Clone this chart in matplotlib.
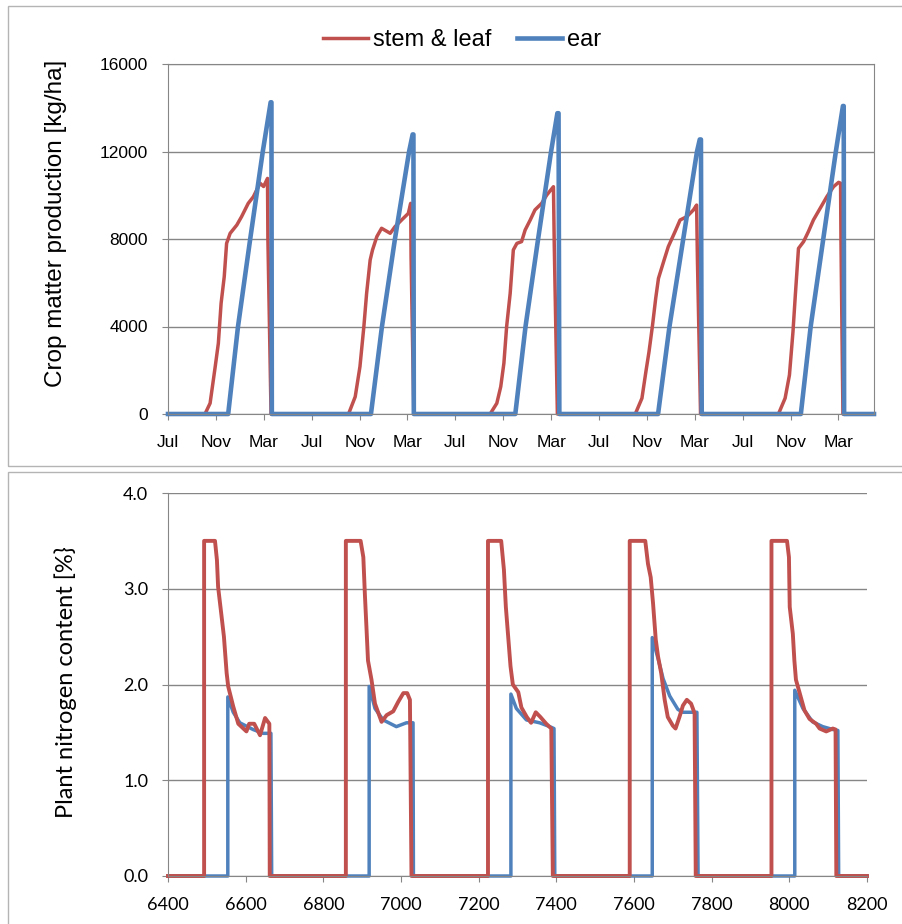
import numpy as np
import matplotlib
matplotlib.use('Agg')
import matplotlib.pyplot as plt
import matplotlib.dates as mdates
from matplotlib.patches import Rectangle

# top chart: days after 1 July of first season, dry matter [kg/ha]
top_stem_day = [0, 94, 107, 120, 128, 135, 143, 149, 158, 175, 187, 204, 217, 234, 243, 253, 254, 262,
                459, 476, 488, 498, 505, 514, 520, 531, 543, 565, 577, 594, 611, 617, 618, 625,
                819, 836, 846, 854, 861, 870, 878, 887, 899, 908, 921, 933, 950, 963, 980, 982, 990,
                1188, 1205, 1215, 1223, 1232, 1240, 1247, 1260, 1272, 1289, 1302, 1319, 1336, 1344, 1346, 1354,
                1552, 1569, 1580, 1589, 1595, 1603, 1616, 1628, 1641, 1658, 1675, 1692, 1705, 1710, 1711, 1716, 1795]
top_stem_kg = [0, 0, 490, 2160, 3230, 5060, 6280, 7800, 8260, 8640, 9020, 9630, 9930, 10550, 10400, 10770, 8000, 0,
               0, 790, 2160, 4000, 5520, 7040, 7500, 8110, 8490, 8260, 8560, 8870, 9170, 9630, 7190, 0,
               0, 490, 1250, 2320, 4000, 5520, 7500, 7800, 7880, 8410, 8870, 9330, 9630, 10010, 10390, 7800, 0,
               0, 720, 1930, 2850, 4070, 5290, 6200, 6960, 7650, 8330, 8870, 9020, 9330, 9550, 7120, 0,
               0, 720, 1780, 3760, 5440, 7570, 7880, 8330, 8870, 9400, 9930, 10390, 10590, 10550, 7950, 0, 0]
top_ear_day = [0, 153, 178, 209, 241, 261, 263, 264,
               516, 544, 577, 613, 622, 624, 625,
               883, 909, 941, 974, 990, 993, 995,
               1246, 1275, 1310, 1345, 1352, 1355, 1357,
               1609, 1634, 1666, 1698, 1716, 1718, 1719, 1795]
top_ear_kg = [0, 0, 4000, 8000, 12000, 14250, 14250, 0,
              0, 4000, 8000, 12000, 12780, 12780, 0,
              0, 4000, 8000, 12000, 13750, 13750, 0,
              0, 4000, 8000, 12000, 12550, 12550, 0,
              0, 4000, 8000, 12000, 14080, 14080, 0, 0]

# bottom chart: day number, nitrogen content [%]
n_stem_day = [6400, 6493, 6493, 6521, 6526, 6529, 6538, 6544, 6551, 6555, 6568, 6581, 6602, 6609, 6622, 6637, 6650, 6661, 6662,
              6858, 6858, 6896, 6903, 6907, 6911, 6915, 6924, 6933, 6950, 6963, 6980, 6993, 7006, 7016, 7023, 7027,
              7224, 7224, 7258, 7265, 7270, 7276, 7282, 7288, 7302, 7310, 7324, 7335, 7347, 7359, 7374, 7387, 7391,
              7589, 7589, 7629, 7636, 7643, 7649, 7656, 7662, 7670, 7679, 7687, 7700, 7707, 7717, 7726, 7736, 7747, 7756, 7759,
              7954, 7954, 7994, 7999, 8001, 8009, 8013, 8017, 8026, 8039, 8052, 8069, 8078, 8095, 8112, 8119, 8121, 8200]
n_stem_pct = [0, 0, 3.5, 3.5, 3.30, 3.02, 2.71, 2.50, 2.12, 1.98, 1.77, 1.59, 1.51, 1.59, 1.59, 1.47, 1.65, 1.59, 0,
              0, 3.5, 3.5, 3.33, 2.94, 2.60, 2.25, 2.05, 1.80, 1.61, 1.68, 1.72, 1.82, 1.91, 1.91, 1.84, 0,
              0, 3.5, 3.5, 3.20, 2.81, 2.50, 2.19, 2.00, 1.92, 1.76, 1.66, 1.60, 1.71, 1.66, 1.59, 1.54, 0,
              0, 3.5, 3.5, 3.26, 3.12, 2.85, 2.47, 2.29, 2.12, 1.84, 1.66, 1.57, 1.54, 1.66, 1.78, 1.84, 1.80, 1.70, 0,
              0, 3.5, 3.5, 3.33, 2.81, 2.53, 2.25, 2.05, 1.92, 1.73, 1.64, 1.59, 1.54, 1.51, 1.54, 1.53, 0, 0]
n_ear_day = [6400, 6554, 6554, 6568, 6585, 6619, 6645, 6665, 6667,
             6918, 6918, 6933, 6954, 6988, 7014, 7031, 7032,
             7283, 7283, 7297, 7323, 7357, 7383, 7394, 7396,
             7647, 7647, 7662, 7675, 7692, 7713, 7726, 7762, 7765,
             8014, 8014, 8035, 8060, 8086, 8112, 8125, 8127, 8200]
n_ear_pct = [0, 0, 1.87, 1.71, 1.60, 1.53, 1.49, 1.49, 0,
             0, 1.98, 1.75, 1.63, 1.56, 1.60, 1.60, 0,
             0, 1.90, 1.75, 1.63, 1.60, 1.56, 1.54, 0,
             0, 2.49, 2.27, 2.06, 1.88, 1.74, 1.71, 1.71, 0,
             0, 1.94, 1.75, 1.61, 1.56, 1.53, 1.52, 0, 0]

RED = '#C0504D'
BLUE = '#4F81BD'
GRID = '#868686'

fig = plt.figure(figsize=(9.02, 9.24), dpi=100)

# the two chart frames
for y0, y1 in [(0.4957, 0.9935), (-0.01, 0.4892)]:
    fig.add_artist(Rectangle((0.0089, y0), 1.0, y1 - y0, transform=fig.transFigure,
                             fill=False, edgecolor='#b4b4b4', lw=1))

# ---- top: crop matter production
ax1 = fig.add_axes([168 / 902, 1 - 414 / 924, 706 / 902, 350 / 924])
base = np.datetime64('2001-07-01')
stem_dates = base + np.array(top_stem_day).astype('timedelta64[D]')
ear_dates = base + np.array(top_ear_day).astype('timedelta64[D]')
ax1.plot(stem_dates, top_stem_kg, color=RED, lw=2.5, label='stem & leaf', clip_on=False)
ax1.plot(ear_dates, top_ear_kg, color=BLUE, lw=3.3, label='ear', clip_on=False)
ax1.set_xlim(base, base + np.timedelta64(1795, 'D'))
ax1.set_ylim(0, 16000)
ax1.set_yticks(range(0, 16001, 4000))
ax1.xaxis.set_major_locator(mdates.MonthLocator(bymonth=[3, 7, 11]))
ax1.xaxis.set_major_formatter(mdates.DateFormatter('%b'))
ax1.grid(axis='y', color=GRID, lw=1)
ax1.set_axisbelow(True)
for s in ax1.spines.values():
    s.set_color(GRID)
ax1.tick_params(axis='both', direction='out', length=4.3, color=GRID, labelsize=12.5)
ax1.tick_params(axis='x', pad=11)
ax1.tick_params(axis='y', pad=10)
for lab in ax1.get_xticklabels() + ax1.get_yticklabels():
    lab.set_family('Liberation Sans')
fig.text(56 / 902, 1 - 223 / 924, 'Crop matter production [kg/ha]', rotation=90,
         ha='center', va='center', fontsize=17.5, family='Liberation Sans')
fig.legend(loc='center', bbox_to_anchor=(462 / 902, 1 - 40 / 924), ncol=2, frameon=False,
           prop={'family': 'Liberation Sans', 'size': 17}, handlelength=1.9,
           handletextpad=0.2, columnspacing=1.1)

# ---- bottom: plant nitrogen content
ax2 = fig.add_axes([168 / 902, 1 - 876 / 924, 699 / 902, 383 / 924])
ax2.plot(n_ear_day, n_ear_pct, color=BLUE, lw=2.5, clip_on=False)
ax2.plot(n_stem_day, n_stem_pct, color=RED, lw=2.8, clip_on=False)
ax2.set_xlim(6400, 8200)
ax2.set_ylim(0, 4)
ax2.set_xticks(range(6400, 8201, 200))
ax2.set_yticks([0, 1, 2, 3, 4])
ax2.set_yticklabels(['0.0', '1.0', '2.0', '3.0', '4.0'])
ax2.grid(axis='y', color=GRID, lw=1)
ax2.set_axisbelow(True)
ax2.spines['top'].set_visible(False)
ax2.spines['right'].set_visible(False)
ax2.spines['left'].set_color(GRID)
ax2.spines['bottom'].set_color(GRID)
ax2.tick_params(axis='both', direction='out', length=4.3, color=GRID, labelsize=13)
ax2.tick_params(axis='x', pad=11)
ax2.tick_params(axis='y', pad=10)
for lab in ax2.get_xticklabels() + ax2.get_yticklabels():
    lab.set_family('Lato')
fig.text(66 / 902, 1 - 682 / 924, 'Plant nitrogen content [%}', rotation=90,
         ha='center', va='center', fontsize=17, family='Lato')

fig.savefig('out.png', dpi=100)
